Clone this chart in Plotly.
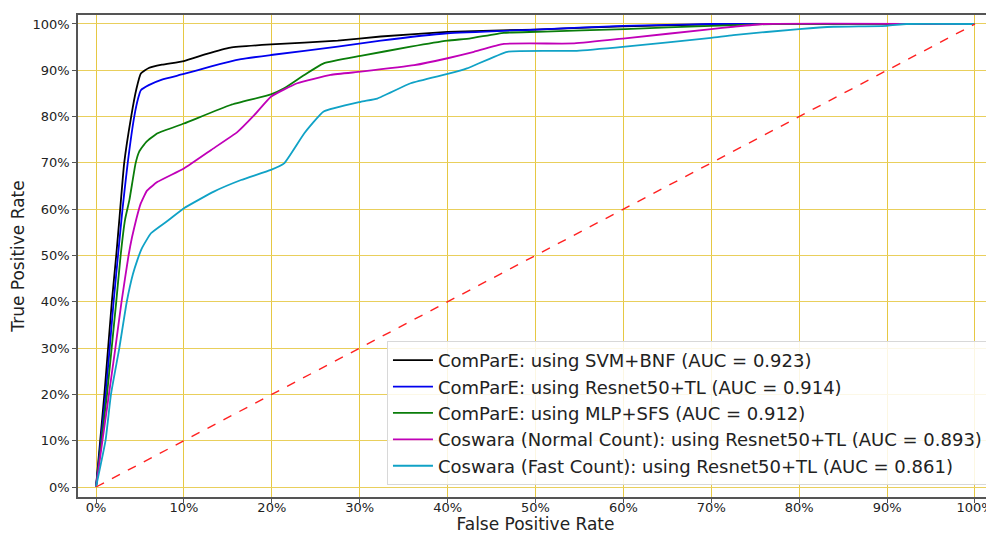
import plotly.graph_objects as go

# ---- data ----
fpr_svm = [0, 0.0095, 0.018, 0.023, 0.0265, 0.032, 0.040, 0.046, 0.051, 0.060, 0.075, 0.100, 0.125, 0.153, 0.199, 0.275, 0.324, 0.400, 0.500, 0.600, 0.700, 0.750, 1.0]
tpr_svm = [0, 0.20, 0.40, 0.50, 0.577, 0.699, 0.800, 0.860, 0.893, 0.905, 0.912, 0.920, 0.935, 0.949, 0.956, 0.964, 0.973, 0.983, 0.988, 0.995, 0.999, 1.0, 1.0]

fpr_res = [0, 0.011, 0.020, 0.025, 0.030, 0.036, 0.0435, 0.048, 0.051, 0.060, 0.075, 0.100, 0.130, 0.165, 0.199, 0.275, 0.324, 0.400, 0.500, 0.600, 0.700, 0.770, 1.0]
tpr_res = [0, 0.20, 0.40, 0.50, 0.598, 0.699, 0.800, 0.840, 0.857, 0.868, 0.880, 0.892, 0.908, 0.924, 0.933, 0.951, 0.964, 0.980, 0.988, 0.996, 1.0, 1.0, 1.0]

fpr_mlp = [0, 0.0125, 0.023, 0.028, 0.033, 0.038, 0.045, 0.049, 0.057, 0.070, 0.100, 0.153, 0.199, 0.214, 0.237, 0.259, 0.301, 0.358, 0.400, 0.426, 0.464, 0.502, 0.602, 0.700, 0.770, 1.0]
tpr_mlp = [0, 0.20, 0.40, 0.50, 0.577, 0.620, 0.699, 0.724, 0.745, 0.764, 0.785, 0.825, 0.848, 0.861, 0.890, 0.915, 0.931, 0.951, 0.964, 0.969, 0.981, 0.983, 0.989, 0.996, 1.0, 1.0]

fpr_cn = [0, 0.0073, 0.022, 0.029, 0.037, 0.041, 0.046, 0.051, 0.058, 0.070, 0.100, 0.131, 0.161, 0.180, 0.199, 0.229, 0.267, 0.301, 0.362, 0.400, 0.430, 0.464, 0.544, 0.602, 0.700, 0.725, 0.760, 1.0]
tpr_cn = [0, 0.10, 0.30, 0.40, 0.50, 0.540, 0.580, 0.613, 0.640, 0.659, 0.688, 0.728, 0.767, 0.803, 0.843, 0.872, 0.890, 0.897, 0.911, 0.926, 0.940, 0.957, 0.958, 0.969, 0.989, 0.994, 1.0, 1.0]

fpr_cf = [0, 0.0108, 0.017, 0.0265, 0.035, 0.042, 0.047, 0.052, 0.0625, 0.083, 0.100, 0.134, 0.165, 0.199, 0.214, 0.237, 0.259, 0.301, 0.320, 0.358, 0.400, 0.422, 0.468, 0.547, 0.602, 0.700, 0.725, 0.800, 0.839, 0.900, 0.922, 1.0]
tpr_cf = [0, 0.10, 0.20, 0.30, 0.40, 0.460, 0.490, 0.515, 0.548, 0.577, 0.602, 0.638, 0.663, 0.685, 0.699, 0.764, 0.811, 0.832, 0.839, 0.872, 0.892, 0.904, 0.940, 0.942, 0.951, 0.970, 0.976, 0.989, 0.994, 0.996, 1.0, 1.0]

chance = [0, 1]
ticks = [i / 10 for i in range(11)]

names = [
    "ComParE: using SVM+BNF (AUC = 0.923)",
    "ComParE: using Resnet50+TL (AUC = 0.914)",
    "ComParE: using MLP+SFS (AUC = 0.912)",
    "Coswara (Normal Count): using Resnet50+TL (AUC = 0.893)",
    "Coswara (Fast Count): using Resnet50+TL (AUC = 0.861)",
]
colors = ["#000000", "#0000ee", "#0a7d0a", "#c000b8", "#10a2c6"]
series = [(fpr_svm, tpr_svm), (fpr_res, tpr_res), (fpr_mlp, tpr_mlp), (fpr_cn, tpr_cn), (fpr_cf, tpr_cf)]

FONT = "DejaVu Sans"
fig = go.Figure()
for (fx, ty), nm, c in zip(series, names, colors):
    fig.add_trace(go.Scatter(x=fx, y=ty, mode="lines", name=nm,
                             line=dict(color=c, width=1.8, shape="spline", smoothing=0.4)))
fig.add_trace(go.Scatter(x=chance, y=chance, mode="lines", showlegend=False,
                         line=dict(color="#ff2020", width=1.4, dash="dash")))

grid = "#e9cf5c"
# the page body has an 8px default margin, so the figure is sized/placed to compensate
fig.update_layout(
    width=986, height=526,
    margin=dict(l=70, r=1, t=7, b=37, autoexpand=False),
    paper_bgcolor="white", plot_bgcolor="white",
    font=dict(family=FONT, color="#222", size=13),
    legend=dict(x=0.9945, y=0.025, xanchor="right", yanchor="bottom",
                bgcolor="rgba(255,255,255,0.85)", bordercolor="#d8d8d8", borderwidth=1,
                itemwidth=40,
                font=dict(size=18, family=FONT, color="#222"), tracegroupgap=0),
)
fig.update_xaxes(range=[-0.0205, 1.0205], tickvals=ticks, tickformat=".0%", automargin=False,
                 showgrid=True, gridcolor="#e6c843", gridwidth=1.4, zeroline=False,
                 showline=True, mirror=True, linecolor="#555", linewidth=1.5,
                 ticks="outside", ticklen=4, tickcolor="#555", ticklabelstandoff=-6,
                 title=dict(text="False Positive Rate", font=dict(size=17, family=FONT), standoff=10))
fig.update_yaxes(range=[-0.0216, 1.0194], tickvals=ticks, tickformat=".0%", automargin=False,
                 showgrid=True, gridcolor=grid, gridwidth=1, zeroline=False,
                 showline=True, mirror=True, linecolor="#555", linewidth=1.5,
                 ticks="outside", ticklen=4, tickcolor="#555",
                 title=dict(text="True Positive Rate", font=dict(size=17, family=FONT), standoff=4))

fig.write_html("out.html")
